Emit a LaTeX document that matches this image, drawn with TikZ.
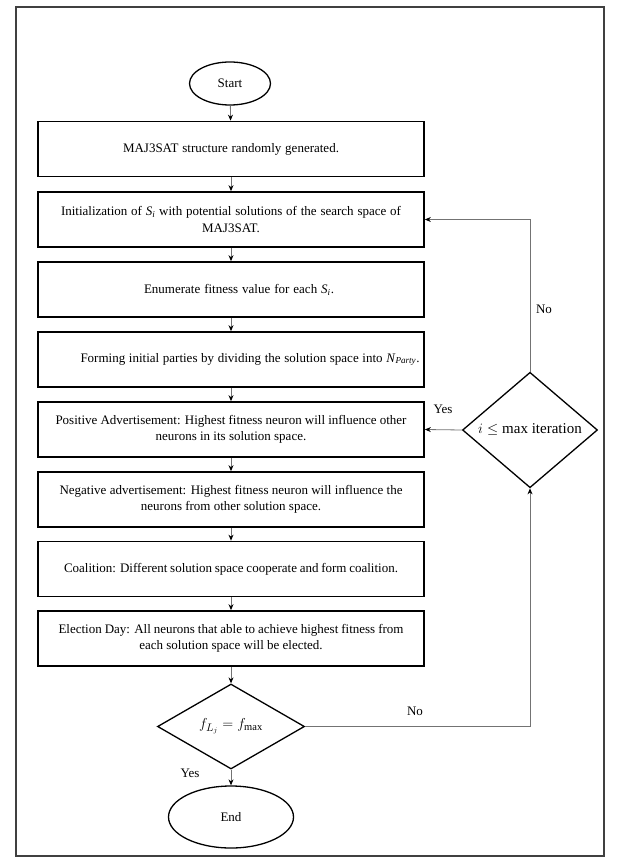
\documentclass[tikz,border=0pt]{standalone}
\usepackage{fontspec}
\setmainfont{Liberation Serif}
\usetikzlibrary{shapes.geometric,arrows.meta}
\newcommand{\spr}[2]{\makebox[#1][s]{#2}}
\newcommand{\Si}{\textit{S}\textsubscript{\textit{i}}}
\begin{document}
\begin{tikzpicture}[x=1pt,y=-1pt,
  procbox/.style={draw=black,line width=1.7pt,minimum width=386pt,minimum height=55pt,inner sep=0pt,
    align=center,font=\fontsize{13pt}{16.5pt}\selectfont},
  termnode/.style={draw=black,line width=1.3pt,ellipse,inner sep=0pt,font=\fontsize{13pt}{15pt}\selectfont},
  decnode/.style={draw=black,line width=1.3pt,diamond,inner sep=0pt,font=\fontsize{15pt}{17pt}\selectfont},
  conn/.style={draw=black!55,line width=0.8pt,-{Stealth[length=6pt,width=5pt,black]}},
  lbl/.style={font=\fontsize{13pt}{15pt}\selectfont,inner sep=0pt}]
\useasboundingbox (0,0) rectangle (631,866);
\draw[black!75,line width=1.2pt] (16,7) rectangle (604,856);

\node[termnode,minimum width=81pt,minimum height=43pt] (start) at (230,83.5) {Start};
\node[procbox] (b1) at (231,149) {\spr{216pt}{MAJ3SAT structure randomly generated.}};
\node[procbox] (b2) at (231,219.5) {\spr{340pt}{Initialization of \Si{} with potential solutions of the search space of}\\MAJ3SAT.};
\node[procbox] (b3) at (231,289.5) {\hspace*{16pt}\spr{190pt}{Enumerate fitness value for each \Si.}};
\node[procbox] (b4) at (231,359.5) {\hspace*{38pt}\spr{339pt}{Forming initial parties by dividing the solution space into \textit{N}\textsubscript{\textit{Party}}.}};
\node[procbox] (b5) at (231,429.5) {\spr{351pt}{Positive Advertisement: Highest fitness neuron will influence other}\\neurons in its solution space.};
\node[procbox] (b6) at (231,499.5) {\spr{343pt}{Negative advertisement: Highest fitness neuron will influence the}\\neurons from other solution space.};
\node[procbox] (b7) at (231,569) {\spr{334pt}{Coalition: Different solution space cooperate and form coalition.}};
\node[procbox] (b8) at (231,638.5) {\spr{345pt}{Election Day: All neurons that able to achieve highest fitness from}\\each solution space will be elected.};
\node[decnode,minimum width=147pt,minimum height=85pt] (d1) at (231,726.5) {$f_{L_j}=f_{\mathrm{max}}$};
\node[termnode,minimum width=125pt,minimum height=62pt] (end) at (231,817) {End};
\node[decnode,minimum width=135pt,minimum height=76pt] (d2) at (530,430) {$i\leq\mathrm{max\ iteration}$};

\draw[conn] (start) -- (b1);
\draw[conn] (b1) -- (b2);
\draw[conn] (b2) -- (b3);
\draw[conn] (b3) -- (b4);
\draw[conn] (b4) -- (b5);
\draw[conn] (b5) -- (b6);
\draw[conn] (b6) -- (b7);
\draw[conn] (b7) -- (b8);
\draw[conn] (b8) -- (d1);
\draw[conn] (d1) -- (end);
\draw[conn] (d1.east) -| (d2.south);
\draw[conn] (d2.north) |- (b2.east);
\draw[conn] (d2.west) -- (b5.east);

\node[lbl] (lno1) at (415,711) {No};
\node[lbl] (lyes1) at (190,773) {Yes};
\node[lbl] (lno2) at (544,309) {No};
\node[lbl] (lyes2) at (443,409) {Yes};
\end{tikzpicture}
\end{document}
